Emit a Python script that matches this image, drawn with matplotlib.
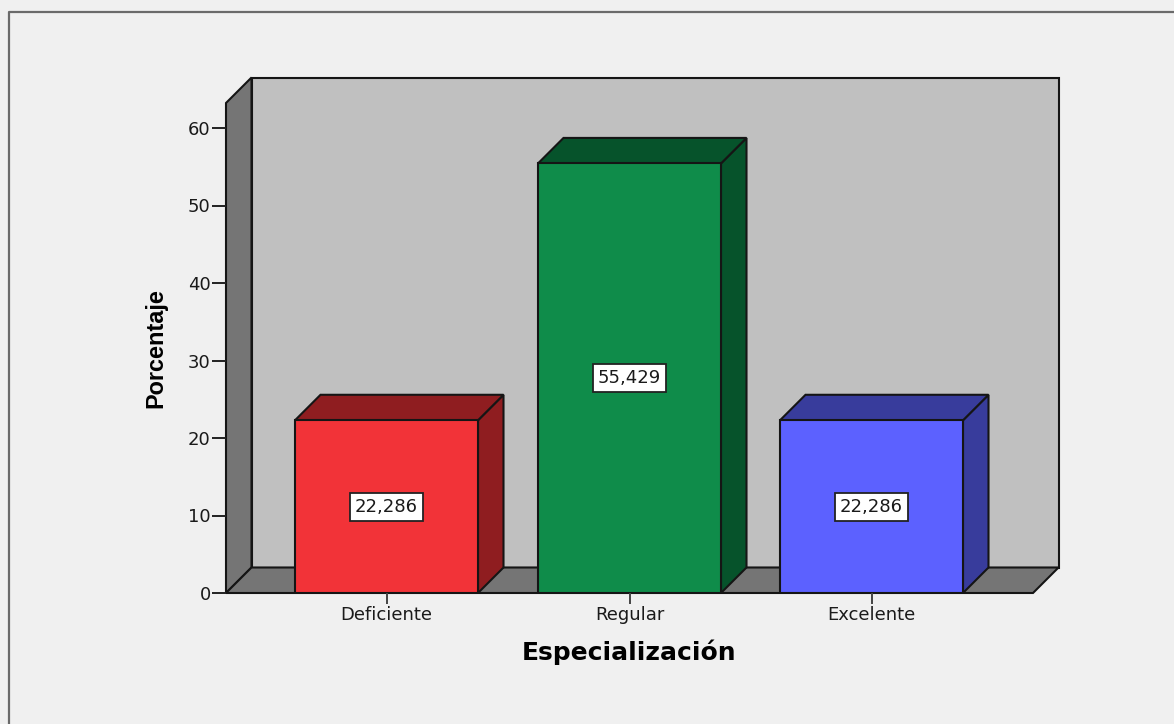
import numpy as np
import matplotlib
matplotlib.use('Agg')
import matplotlib.pyplot as plt
from matplotlib.patches import Polygon, Rectangle

categories = ['Deficiente', 'Regular', 'Excelente']
values = [22.286, 55.429, 22.286]
labels = ['22,286', '55,429', '22,286']
front = ['#f23338', '#0f8c4a', '#5c61ff']
top = ['#8f1d20', '#06532b', '#383c9c']
yticks = [0, 10, 20, 30, 40, 50, 60]

W, H = 1174, 724
plt.rcParams['font.family'] = ['DejaVu Sans']
fig = plt.figure(figsize=(W / 100, H / 100), dpi=100, facecolor='#f0f0f0')

# axes fill the front plane of the box, x in data = pixels from the left
x0, x1 = 226, 1033
y0, y60 = 593, 128
ax = fig.add_axes([x0 / W, 1 - y0 / H, (x1 - x0) / W, (y0 - y60) / H])
ax.set_xlim(x0, x1)
ax.set_ylim(0, 60)
ax.patch.set_visible(False)
for s in ax.spines.values():
    s.set_visible(False)

# depth offset in data units
dx = 25.5
per_pix = 60 / (y0 - y60)
dy = 25.5 * per_pix
ymax = (y0 - 103) * per_pix


def poly(pts, color, z=2):
    ax.add_patch(Polygon(pts, closed=True, facecolor=color, edgecolor='#151515',
                         linewidth=1.5, clip_on=False, zorder=z))


# back wall, side wall, floor
poly([(x0 + dx, dy), (x1 + dx, dy), (x1 + dx, ymax + dy), (x0 + dx, ymax + dy)], '#c0c0c0', 1)
poly([(x0, 0), (x0 + dx, dy), (x0 + dx, ymax + dy), (x0, ymax)], '#757575', 1)
poly([(x0, 0), (x1, 0), (x1 + dx, dy), (x0 + dx, dy)], '#757575', 1)

centers = [386.5, 629.5, 871.5]
width = 183
for c, v, lab, f, t in zip(centers, values, labels, front, top):
    l, r = c - width / 2, c + width / 2
    poly([(r, 0), (r + dx, dy), (r + dx, v + dy), (r, v)], t, 3)
    poly([(l, v), (r, v), (r + dx, v + dy), (l + dx, v + dy)], t, 3)
    ax.add_patch(Rectangle((l, 0), width, v, facecolor=f, edgecolor='#151515',
                           linewidth=1.5, zorder=4))
    ax.text(c, v / 2, lab, ha='center', va='center', fontsize=13, color='#1a1a1a', zorder=5,
            bbox=dict(boxstyle='square,pad=0.28', facecolor='white', edgecolor='#222222', linewidth=1.3))

ax.set_yticks(yticks)
ax.set_xticks(centers)
ax.set_xticklabels(categories)
ax.tick_params(axis='y', length=10, width=1.4, color='#222222', labelsize=13, labelcolor='#1a1a1a', pad=1)
ax.tick_params(axis='x', length=8, width=1.4, color='#444444', labelsize=13, labelcolor='#1a1a1a', pad=1.5)

fig.text(156 / W, 1 - 348.5 / H, 'Porcentaje', rotation=90, ha='center', va='center',
         fontsize=16.9, fontweight='bold', family='Liberation Sans')
fig.text(629.5 / W, 1 - 652 / H, 'Especialización', ha='center', va='center',
         fontsize=18, fontweight='bold')

# outer frame of the picture
fig.add_artist(plt.Line2D([9 / W, 9 / W, 1], [0, 1 - 12 / H, 1 - 12 / H],
                          color='#6a6a6a', linewidth=1.6))

fig.savefig('out.png', dpi=100, facecolor=fig.get_facecolor())
